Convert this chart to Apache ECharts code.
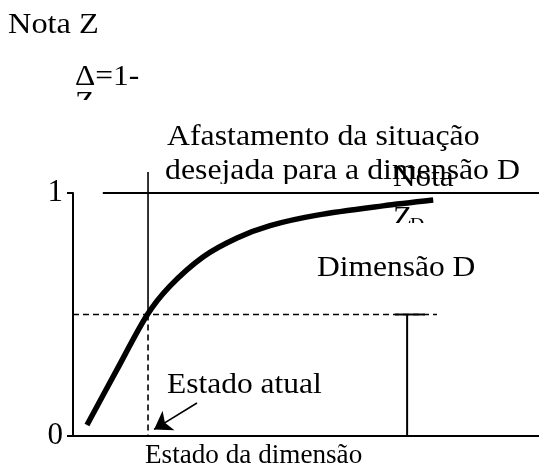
<!DOCTYPE html>
<html>
<head>
<meta charset="utf-8">
<script src="https://cdn.jsdelivr.net/npm/echarts@6/dist/echarts.min.js"></script>
<style>
  html, body { margin: 0; padding: 0; background: #fff; }
  #chart { width: 539px; height: 470px; }
</style>
</head>
<body>
<div id="chart"></div>
<script>
// curve Z = f(estado)
const curveX = [3.0, 9.4, 15.9, 20.8, 27.9, 35.2, 42.3, 52.4, 66.5, 77.3];
const curveY = [0.045, 0.272, 0.498, 0.617, 0.737, 0.815, 0.866, 0.909, 0.947, 0.971];
const yTicks = [0, 1];

// reference marks
const currentX = 16.1;      // estado atual
const currentZ = 0.5;       // nota atual
const verticalTop = 1.086;  // solid line goes a bit above Z=1
const topLineStart = 6.4;   // Z=1 line starts after a gap
const dashEnd = 78.1;
const dimX = 71.7;          // "Dimensão D" bar
const dimCap = [69.1, 75.5];
const arrowFrom = [26.6, 0.136];
const arrowTo = [17.4, 0.027];

const font = "'Liberation Serif', 'Times New Roman', serif";
const fs = 30;

const chart = echarts.init(document.getElementById('chart'));

const seg = (pts, width, type, extra) => Object.assign({
    type: 'line',
    data: pts,
    symbol: 'none',
    clip: false,
    silent: true,
    lineStyle: { color: '#000', width: width, type: type }
}, extra || {});

const txt = (text, x, y, size, sx, z) => ({
    type: 'text',
    x: x, y: y, z: z || 10,
    scaleX: sx || 1,
    style: { text: text, font: size + 'px ' + font, fill: '#000', verticalAlign: 'middle' }
});

const wipe = (x, y, w, h, z) => ({
    type: 'rect',
    shape: { x: x, y: y, width: w, height: h },
    z: z || 20,
    style: { fill: '#fff' }
});

const option = {
    backgroundColor: '#fff',
    animation: false,
    grid: { left: 73, right: 0, top: 193, bottom: 34 },
    xAxis: {
        type: 'value', min: 0, max: 100,
        axisLine: { show: true, onZero: false, lineStyle: { color: '#000', width: 2 } },
        axisTick: { show: false },
        axisLabel: { show: false },
        splitLine: { show: false }
    },
    yAxis: {
        type: 'value', min: 0, max: 1, interval: 1,
        axisLine: { show: true, lineStyle: { color: '#000', width: 2 } },
        axisTick: { show: true, length: 6, lineStyle: { color: '#000', width: 2 } },
        axisLabel: {
            margin: 10, color: '#000', fontSize: 31, fontFamily: font,
            formatter: v => yTicks.includes(v) ? String(v) : ''
        },
        splitLine: { show: false }
    },
    series: [
        seg([[topLineStart, 1], [100, 1]], 2, 'solid'),
        seg([[currentX, verticalTop], [currentX, currentZ]], 1.6, 'solid'),
        seg([[currentX, currentZ], [currentX, 0]], 1.6, [6, 4]),
        seg([[0, currentZ], [dashEnd, currentZ]], 1.6, [6, 4]),
        seg([[dimCap[0], currentZ], [dimCap[1], currentZ]], 2, 'solid'),
        seg([[dimX, currentZ], [dimX, 0]], 2, 'solid'),
        {
            type: 'line',
            data: curveX.map((x, i) => [x, curveY[i]]),
            symbol: 'none',
            smooth: 0.3,
            clip: false,
            lineStyle: { color: '#000', width: 5.5, cap: 'butt' },
            z: 5
        },
        {
            type: 'lines',
            coordinateSystem: 'cartesian2d',
            symbol: ['none', 'arrow'],
            symbolSize: [13, 17],
            lineStyle: { color: '#000', width: 1.6, opacity: 1 },
            data: [{ coords: [arrowFrom, arrowTo] }]
        }
    ],
    graphic: [
        txt('Nota Z', 8, 25, fs, 1.08),
        txt('Δ=1-', 75, 77, fs, 1.05),
        txt('Z', 75, 103, fs, 1.05),
        wipe(70, 100, 40, 20),
        txt('Afastamento da situação', 167, 137, fs, 1.06),
        txt('desejada para a dimensão D', 165, 171, fs, 1.06),
        wipe(150, 184, 385, 7),
        txt('Nota', 393, 178, fs, 1.04, 30),
        txt('Z', 393, 218, fs, 1.04, 30),
        txt('D', 410, 226, 19, 1.04, 30),
        wipe(385, 223, 50, 16, 40),
        txt('Dimensão D', 317, 268, fs, 1.05),
        txt('Estado atual', 167, 385, fs, 1.05),
        txt('Estado da dimensão', 145, 456, 28, 0.97)
    ]
};

chart.setOption(option);
</script>
</body>
</html>
